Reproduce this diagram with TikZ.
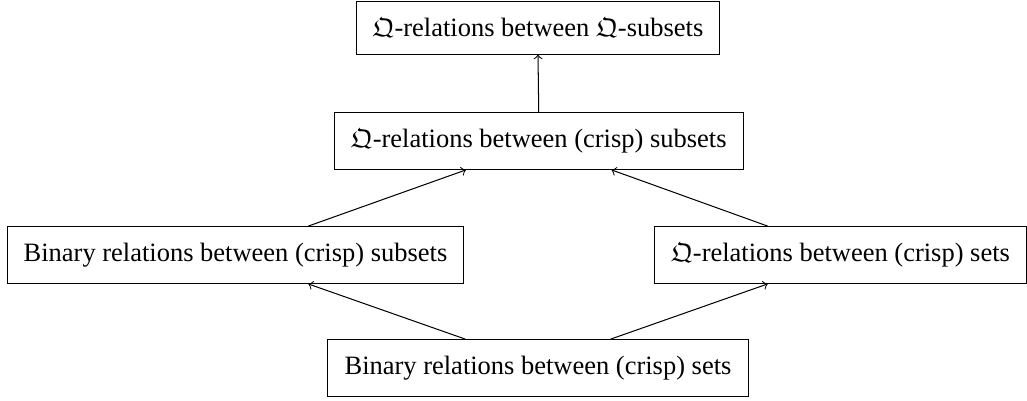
\documentclass[tikz,border=0pt]{standalone}
\usepackage{amsmath}
\usepackage{amssymb}
\usepackage{fontspec}
\setmainfont{Liberation Serif}
\usepackage{tikz}

\tikzset{relbox/.style={draw, font=\fontsize{10.35}{12}\selectfont, inner xsep=6.5pt, inner ysep=6.4pt}}

\begin{document}
\begin{tikzpicture}
    \useasboundingbox (0,0) rectangle (14.107,-5.508);

    % Top level
    \node[relbox] (qsub) at (7.39,-0.385) {$\mathfrak{Q}$-relations between $\mathfrak{Q}$-subsets};

    % Middle level
    \node[relbox] (qcrispsub) at (7.40,-1.937) {$\mathfrak{Q}$-relations between (crisp) subsets};

    % Second level
    \node[relbox] (binsub) at (3.235,-3.503) {Binary relations between (crisp) subsets};
    \node[relbox] (qsets) at (11.545,-3.503) {$\mathfrak{Q}$-relations between (crisp) sets};

    % Bottom level
    \node[relbox] (binsets) at (7.39,-5.055) {Binary relations between (crisp) sets};

    % Arrows
    \draw[->] ([xshift=-1cm]binsets.north) -- ([xshift=1cm]binsub.south);
    \draw[->] ([xshift=1cm]binsets.north) -- ([xshift=-1cm]qsets.south);
    \draw[->] ([xshift=1cm]binsub.north) -- ([xshift=-1cm]qcrispsub.south);
    \draw[->] ([xshift=-1cm]qsets.north) -- ([xshift=1cm]qcrispsub.south);
    \draw[->] (qcrispsub.north) -- (qsub.south);
\end{tikzpicture}
\end{document}
